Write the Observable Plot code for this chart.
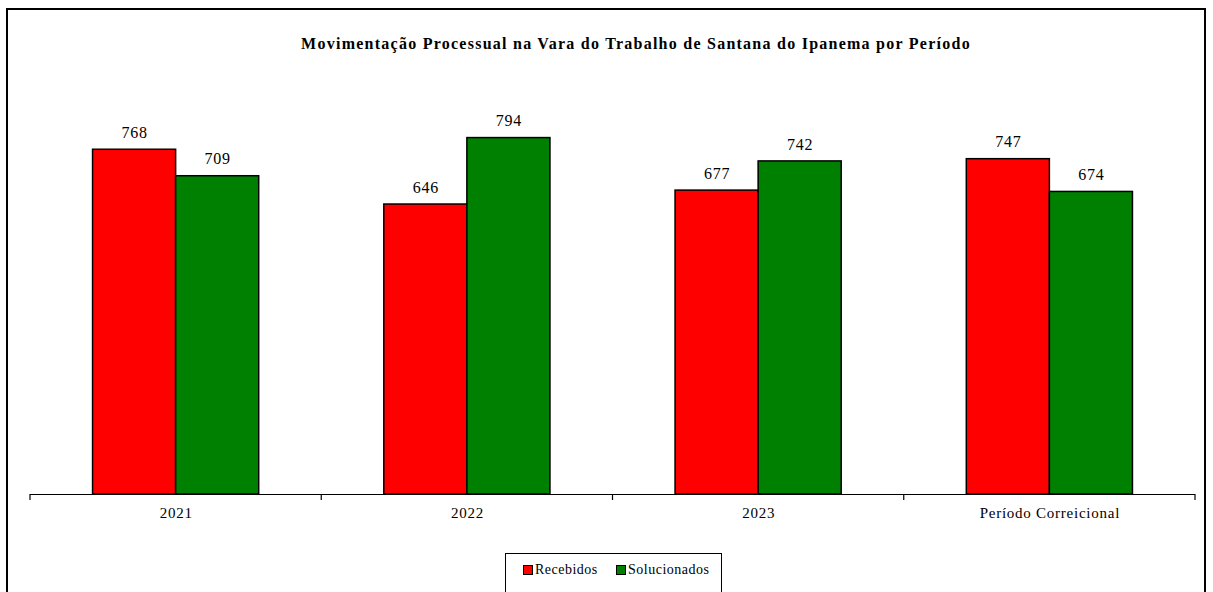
<!DOCTYPE html>
<html><head><meta charset="utf-8">
<script src="https://cdn.jsdelivr.net/npm/d3@7"></script>
<script src="https://cdn.jsdelivr.net/npm/@observablehq/plot@0.6"></script>
<style>
html,body{margin:0;padding:0;background:#fff;overflow:hidden;}
body{width:1213px;height:592px;position:relative;font-family:"Liberation Serif","Times New Roman",serif;}
#frame{position:absolute;left:6px;top:8px;width:1200px;height:620px;border:2px solid #000;box-sizing:border-box;}
#title{position:absolute;left:0;width:1272px;top:35px;text-align:center;font-weight:bold;font-size:16px;letter-spacing:1.25px;color:#000;}
#chart{position:absolute;left:0;top:0;}
#legend{position:absolute;left:505px;top:553px;width:217px;height:50px;border:1px solid #000;box-sizing:border-box;background:#fff;font-size:14px;letter-spacing:0.5px;}
.item{position:absolute;top:8px;display:flex;align-items:center;}
.sw{width:8px;height:8px;border:1px solid #000;margin-right:2px;}
</style></head>
<body>
<div id="frame"></div>
<div id="title">Movimentação Processual na Vara do Trabalho de Santana do Ipanema por Período</div>
<div id="chart"></div>
<div id="legend"></div>
<script>
const categories = ["2021", "2022", "2023", "Período Correicional"];
const series = ["Recebidos", "Solucionados"];
const recebidos = [768, 646, 677, 747];
const solucionados = [709, 794, 742, 674];
const colors = ["#ff0000", "#008000"];

const data = [];
categories.forEach((c, i) => {
  data.push({cat: c, series: series[0], value: recebidos[i]});
  data.push({cat: c, series: series[1], value: solucionados[i]});
});

const W = 1213, H = 530;
const plot = Plot.plot({
  width: W, height: H,
  marginLeft: 30, marginRight: 18, marginTop: 90, marginBottom: 36,
  style: {fontFamily: '"Liberation Serif","Times New Roman",serif', fontSize: "15px", background: "transparent", color: "#000", letterSpacing: "0.75px"},
  fx: {domain: categories, padding: 0, round: false, label: null, tickSize: 0, tickPadding: 13},
  x: {domain: series, axis: null, round: false, paddingInner: 0, paddingOuter: 0.753},
  y: {domain: [0, 900], axis: null},
  color: {domain: series, range: colors},
  marks: [
    Plot.barY(data, {fx: "cat", x: "series", y: "value", fill: "series", stroke: "#000", strokeWidth: 1.5}),
    Plot.ruleY([0], {stroke: "#000", strokeWidth: 1.2}),
    Plot.text(data, {fx: "cat", x: "series", y: "value", text: d => String(d.value), dy: -17, fontSize: 16, fill: "#000"})
  ]
});
document.getElementById("chart").appendChild(plot);

// boundary ticks on the category axis, from the fx scale
const fx = plot.scale("fx");
const y = plot.scale("y");
const y0 = y.apply(0);
const bounds = categories.map(c => fx.apply(c));
bounds.push(fx.apply(categories[categories.length - 1]) + fx.bandwidth);
d3.select(plot).append("g")
  .selectAll("line").data(bounds).join("line")
  .attr("x1", d => d).attr("x2", d => d)
  .attr("y1", y0).attr("y2", y0 + 6)
  .attr("stroke", "#000").attr("stroke-width", 1.2);

// legend
const lg = document.getElementById("legend");
const lefts = [17, 110];
series.forEach((s, i) => {
  const it = document.createElement("div");
  it.className = "item";
  it.style.left = lefts[i] + "px";
  const sw = document.createElement("div");
  sw.className = "sw";
  sw.style.background = colors[i];
  const t = document.createElement("span");
  t.textContent = s;
  it.appendChild(sw); it.appendChild(t);
  lg.appendChild(it);
});
</script>
</body></html>
